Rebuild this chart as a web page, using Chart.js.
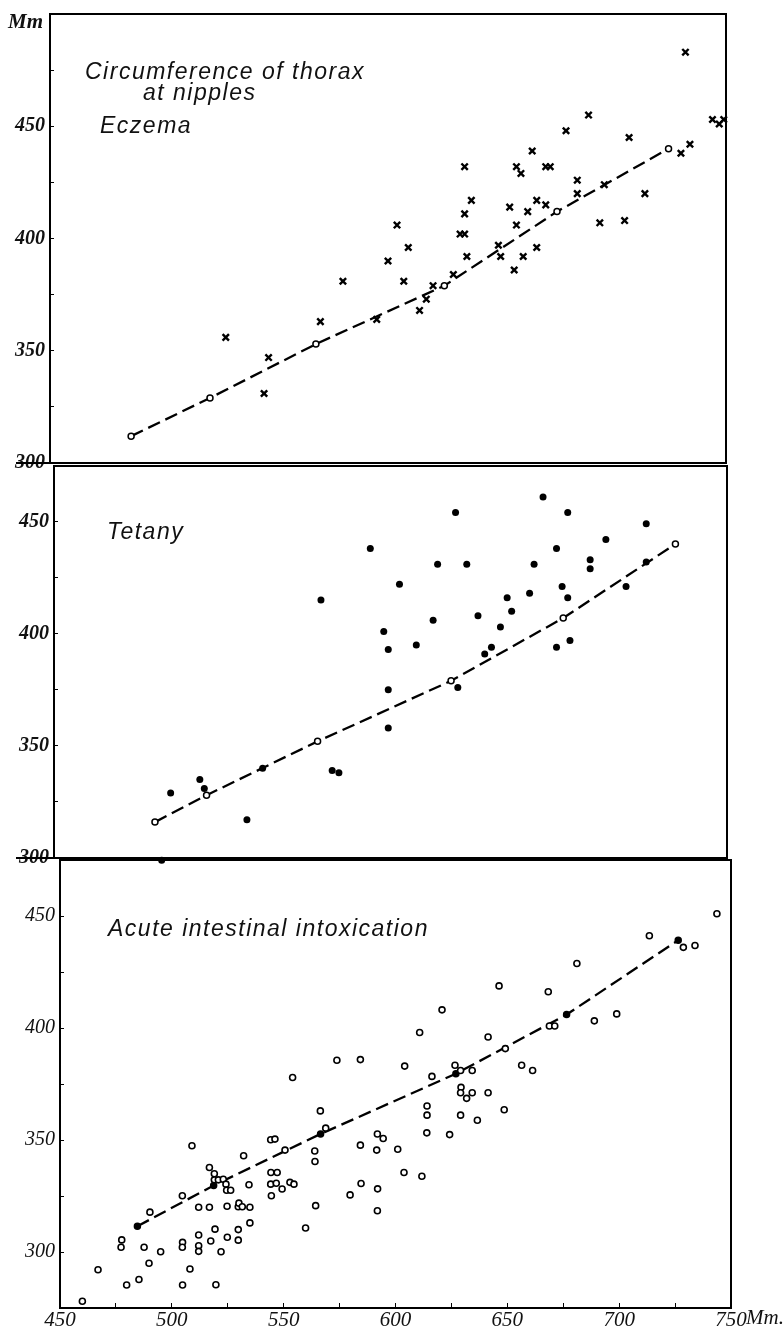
<!DOCTYPE html>
<html>
<head>
<meta charset="utf-8">
<script src="https://cdn.jsdelivr.net/npm/chart.js@4.4.1/dist/chart.umd.min.js"></script>
<style>
body { margin: 0; background: #fff; }
#wrap { position: relative; width: 784px; height: 1330px; overflow: hidden; }
canvas { position: absolute; left: 0; }
.t { position: absolute; white-space: nowrap; color: #111; font-style: italic; line-height: 1; }
.sans { font-family: "Liberation Sans", sans-serif; font-size: 23px; letter-spacing: 1.5px; }
.serif { font-family: "Liberation Serif", serif; font-size: 21px; }
</style>
</head>
<body>
<div id="wrap">
  <canvas id="eczema" width="784" height="470" style="top:0"></canvas>
  <canvas id="tetany" width="784" height="405" style="top:460px"></canvas>
  <canvas id="acute" width="784" height="480" style="top:850px"></canvas>

  <div class="t serif" style="left:8px;top:11px;font-weight:bold">Mm</div>
  <div class="t sans" style="left:85px;top:60px">Circumference of thorax</div>
  <div class="t sans" style="left:143px;top:81px">at nipples</div>
  <div class="t sans" style="left:100px;top:114px">Eczema</div>
  <div class="t sans" style="left:107px;top:520px">Tetany</div>
  <div class="t sans" style="left:108px;top:917px">Acute intestinal intoxication</div>
  <div class="t serif" style="left:746px;top:1307px">Mm.</div>
</div>

<script>
// x axis: circumference of head (mm), y axis: circumference of thorax (mm)
const xTicks = [450, 500, 550, 600, 650, 700, 750];
const yTicks = [300, 350, 400, 450];

// Eczema - individual cases (crosses)
const eczemaX = [528, 547, 545, 570, 580, 595, 600, 604, 609, 607, 614, 617, 620,
                 629, 635, 632, 634, 634, 637, 634, 649, 650, 656, 660, 666, 654,
                 657, 662, 666, 670, 657, 659, 664, 670, 672, 679, 689, 684, 684,
                 696, 694, 705, 707, 714, 732, 730, 734, 744, 747, 749];
const eczemaY = [356, 347, 331, 363, 381, 364, 390, 406, 396, 381, 368, 373, 379,
                 384, 392, 402, 402, 411, 417, 432, 397, 392, 386, 392, 396, 414,
                 406, 412, 417, 415, 432, 429, 439, 432, 432, 448, 455, 426, 420,
                 424, 407, 408, 445, 420, 483, 438, 442, 453, 451, 453];
const eczemaMeanX = [486, 521, 568, 625, 675, 724.5];
const eczemaMeanY = [312, 329, 353, 379, 412, 440];

// Tetany - individual cases (dots)
const tetanyX = [502, 515, 517, 498, 536, 543, 574, 577, 569, 591, 597, 599, 599, 599,
                 604, 611.5, 619, 621, 629, 630, 634, 639, 642, 645, 649, 652, 654,
                 662, 664, 668, 674, 674, 676.5, 679, 680, 679, 689, 689, 696, 705,
                 714, 714];
const tetanyY = [329, 335, 331, 299, 317, 340, 339, 338, 415, 438, 401, 393, 375, 358,
                 422, 395, 406, 431, 454, 376, 431, 408, 391, 394, 403, 416, 410,
                 418, 431, 461, 438, 394, 421, 416, 397, 454, 433, 429, 442, 421,
                 449, 432];
const tetanyMeanX = [495, 518, 567.5, 627, 677, 727];
const tetanyMeanY = [316, 328, 352, 379, 407, 440];

// Acute intestinal intoxication - individual cases (open circles)
const acuteX = [460, 467, 477.6, 477.3, 479.8, 485.3, 487.6, 489.8, 490.2, 495,
                504.7, 504.8, 504.7, 504.8, 508.1, 509, 512, 512, 512, 512,
                516.8, 516.8, 517.4, 519, 519, 519.3, 519.7, 520.8, 523, 524.2,
                524.5, 526.3, 522, 524.7, 524.8, 529.7, 530, 531.5, 529.7, 529.7,
                532.1, 534.5, 534.9, 534.9, 544.2, 546.1, 544.3, 547.1, 544.2, 546.7,
                544.5, 549.3, 550.6, 552.8, 554.6, 554, 559.8, 563.9, 564, 564.3,
                566.4, 568.8, 573.8, 579.7, 584.3, 584.3, 584.6, 591.9, 594.5, 591.6,
                592, 591.9, 601, 603.8, 604.1, 610.8, 611.8, 614.1, 614.1, 614,
                616.3, 620.8, 624.2, 626.6, 629.1, 634.3, 629.3, 629.1, 631.8, 634.3,
                641.4, 629.1, 636.6, 641.4, 646.3, 649.1, 648.6, 656.4, 661.3, 668.3,
                668.8, 671.2, 681.1, 688.9, 698.9, 713.5, 728.7, 733.9, 743.7];
const acuteY = [278, 292.1, 305.4, 302.1, 285.3, 287.7, 302.1, 295, 317.8, 300.1,
                325.1, 304.3, 302.1, 285.3, 292.4, 347.4, 320, 307.6, 302.8, 300.3,
                337.7, 320, 304.9, 334.9, 332.2, 310.2, 285.4, 332.2, 332.5, 330.3,
                327.6, 327.6, 300.1, 320.4, 306.6, 320.2, 321.8, 320.2, 310, 305.3,
                343, 330, 320, 313, 350.1, 350.4, 335.5, 335.5, 330.3, 330.7,
                325.1, 328.1, 345.5, 331.1, 330.3, 377.9, 310.7, 345.1, 340.4, 320.7,
                363, 355.3, 385.6, 325.5, 385.9, 347.7, 330.6, 352.7, 350.7, 345.5,
                328.2, 318.4, 345.9, 335.5, 383, 398, 333.8, 365.2, 361.1, 353.2,
                378.4, 408.1, 352.4, 383.4, 381, 381, 373.5, 371.1, 368.6, 371.1,
                371.1, 361.1, 358.8, 396, 418.8, 390.8, 363.5, 383.4, 381, 416.2,
                400.9, 400.9, 428.8, 403.2, 406.3, 441.2, 436, 436.8, 451];
const acuteMeanX = [484.6, 518.7, 566.5, 627, 676.5, 726.4];
const acuteMeanY = [311.5, 329.7, 352.7, 379.6, 406, 439.2];

function pts(xs, ys) {
    return xs.map((x, i) => ({ x: x, y: ys[i] }));
}

function meanLine(xs, ys, filled) {
    return {
        data: pts(xs, ys),
        showLine: true,
        borderColor: '#000',
        borderWidth: 2.3,
        borderDash: [13, 6],
        pointRadius: 3,
        pointBorderWidth: 1.5,
        pointBorderColor: '#000',
        pointBackgroundColor: filled ? '#000' : '#fff',
        clip: false,
        order: 2
    };
}

// draws the bit of the panel separator that runs out under the y labels
const sepLine = {
    id: 'sepLine',
    afterDraw(chart, args, opts) {
        if (!opts.on) return;
        const ctx = chart.ctx, a = chart.chartArea;
        ctx.save();
        ctx.strokeStyle = '#000';
        ctx.lineWidth = 2;
        ctx.beginPath();
        ctx.moveTo(16, a.bottom);
        ctx.lineTo(a.left, a.bottom);
        ctx.stroke();
        ctx.restore();
    }
};

function panel(id, area, yMin, yMax, datasets, showX) {
    const cv = document.getElementById(id);
    const h = cv.height;
    new Chart(cv, {
        type: 'scatter',
        data: { datasets: datasets },
        plugins: [sepLine],
        options: {
            responsive: false,
            animation: false,
            layout: { padding: { top: area.top, right: 784 - area.right, left: 0, bottom: 0 } },
            plugins: {
                legend: { display: false },
                tooltip: { enabled: false },
                sepLine: { on: !showX }
            },
            scales: {
                x: {
                    type: 'linear', position: 'bottom', min: xTicks[0], max: xTicks[xTicks.length - 1],
                    afterFit: s => { s.height = h - area.bottom; s.paddingLeft = 0; s.paddingRight = 0; },
                    ticks: {
                        display: showX, stepSize: 25, color: '#111', padding: 5,
                        font: { family: 'Liberation Serif', style: 'italic', size: 21 },
                        callback: v => xTicks.includes(v) ? String(v) : ''
                    },
                    grid: { drawOnChartArea: false, drawTicks: showX, tickLength: -5, color: '#000' },
                    border: { color: '#000', width: 2 }
                },
                xTop: {
                    type: 'linear', position: 'top', min: xTicks[0], max: xTicks[xTicks.length - 1],
                    afterFit: s => { s.height = 0; s.paddingLeft = 0; s.paddingRight = 0; },
                    ticks: { display: false },
                    grid: { display: false },
                    border: { color: '#000', width: 2 }
                },
                y: {
                    type: 'linear', position: 'left', min: yMin, max: yMax,
                    afterFit: s => { s.width = area.left; s.paddingTop = 0; s.paddingBottom = 0; },
                    ticks: {
                        stepSize: 25, color: '#111', padding: 9,
                        font: { family: 'Liberation Serif', style: 'italic', size: 20, weight: showX ? 'normal' : 'bold' },
                        callback: v => yTicks.includes(v) ? String(v) : ''
                    },
                    grid: { drawOnChartArea: false, tickLength: -4, color: '#000' },
                    border: { color: '#000', width: 2 }
                },
                yRight: {
                    type: 'linear', position: 'right', min: yMin, max: yMax,
                    afterFit: s => { s.width = 0; s.paddingTop = 0; s.paddingBottom = 0; },
                    ticks: { display: false },
                    grid: { display: false },
                    border: { color: '#000', width: 2 }
                }
            }
        }
    });
}

panel('eczema', { left: 50, right: 726, top: 14, bottom: 465 }, 300, 500, [
    {
        data: pts(eczemaX, eczemaY),
        pointStyle: 'crossRot',
        pointRadius: 4.5,
        pointBorderWidth: 2.4,
        pointBorderColor: '#000',
        clip: false,
        order: 1
    },
    meanLine(eczemaMeanX, eczemaMeanY, false)
], false);

panel('tetany', { left: 54, right: 727, top: 5, bottom: 398 }, 300, 475, [
    {
        data: pts(tetanyX, tetanyY),
        pointRadius: 3.5,
        pointBorderWidth: 0,
        pointBackgroundColor: '#000',
        clip: false,
        order: 1
    },
    meanLine(tetanyMeanX, tetanyMeanY, false)
], false);

panel('acute', { left: 60, right: 731, top: 10, bottom: 458 }, 275, 475, [
    {
        data: pts(acuteX, acuteY),
        pointRadius: 3,
        pointBorderWidth: 1.6,
        pointBorderColor: '#000',
        pointBackgroundColor: '#fff',
        clip: false,
        order: 1
    },
    meanLine(acuteMeanX, acuteMeanY, true)
], true);
</script>
</body>
</html>
